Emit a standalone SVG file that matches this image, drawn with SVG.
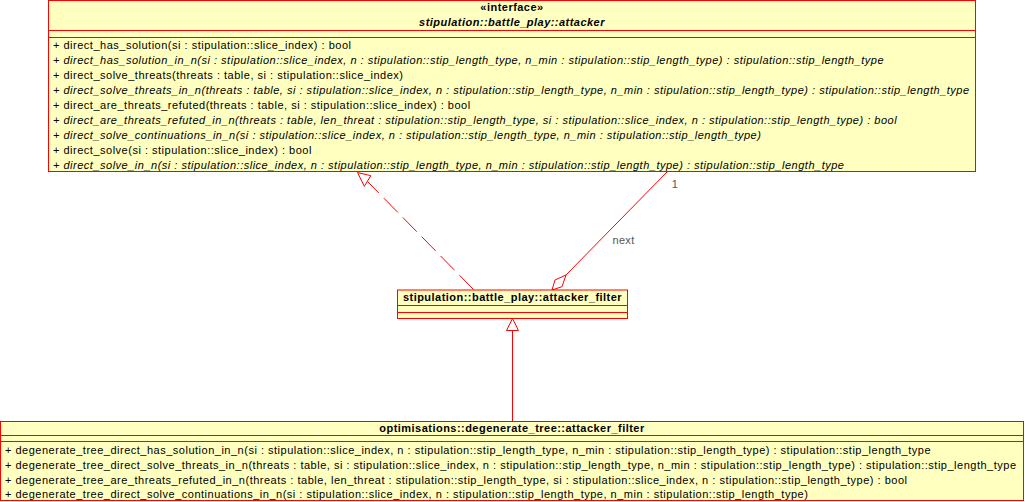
<svg xmlns="http://www.w3.org/2000/svg" width="1025" height="502" viewBox="0 0 1025 502">
<style>
.box{fill:#ffffc0;stroke:#ff0000;stroke-width:1}
.sep{stroke:#ff0000;stroke-width:1}
.t{font-family:"Liberation Sans",Arial,sans-serif;font-size:11px;fill:#000;letter-spacing:0.505px}
.b{font-weight:bold;letter-spacing:0.47px}
.i{font-style:italic}
.c{text-anchor:middle}
.edge{fill:none;stroke:#ff0000;stroke-width:1}
.head{fill:#ffffff;stroke:#ff0000;stroke-width:1}
.lbl{font-family:"Liberation Sans",Arial,sans-serif;font-size:11px;fill:#555555;letter-spacing:0.3px}
</style>
<rect width="1025" height="502" fill="#ffffff"/>
<g id="connectors">
  <line class="edge" x1="473.5" y1="289.5" x2="367.5" y2="181.5" stroke-dasharray="20,7"/>
  <polygon class="head" points="357.5,172.5 370.8,175.7 364.3,186.3"/>
  <line class="edge" x1="566" y1="275" x2="667.5" y2="171.5"/>
  <polygon class="head" points="552,290 555,280 566,275 562,286.7"/>
  <text class="lbl c" x="675" y="187.5">1</text>
  <text class="lbl c" x="623.5" y="244">next</text>
  <line class="edge" x1="512.5" y1="421" x2="512.5" y2="330.5"/>
  <polygon class="head" points="512.5,318.5 506.5,330.5 518.5,330.5"/>
</g>
<g id="attacker">
  <rect class="box" x="48.5" y="0.5" width="927" height="171"/>
  <line class="sep" x1="48.5" y1="30.5" x2="975.5" y2="30.5"/>
  <line class="sep" x1="48.5" y1="37.5" x2="975.5" y2="37.5"/>
  <text class="t b c" x="512" y="11">«interface»</text>
  <text class="t b i c" x="512" y="25.5">stipulation::battle_play::attacker</text>
  <text class="t" x="53" y="48.5">+ direct_has_solution(si : stipulation::slice_index) : bool</text>
  <text class="t i" x="53" y="63.5">+ direct_has_solution_in_n(si : stipulation::slice_index, n : stipulation::stip_length_type, n_min : stipulation::stip_length_type) : stipulation::stip_length_type</text>
  <text class="t" x="53" y="78.5">+ direct_solve_threats(threats : table, si : stipulation::slice_index)</text>
  <text class="t i" x="53" y="93.5">+ direct_solve_threats_in_n(threats : table, si : stipulation::slice_index, n : stipulation::stip_length_type, n_min : stipulation::stip_length_type) : stipulation::stip_length_type</text>
  <text class="t" x="53" y="108.5">+ direct_are_threats_refuted(threats : table, si : stipulation::slice_index) : bool</text>
  <text class="t i" x="53" y="123.5">+ direct_are_threats_refuted_in_n(threats : table, len_threat : stipulation::stip_length_type, si : stipulation::slice_index, n : stipulation::stip_length_type) : bool</text>
  <text class="t i" x="53" y="138.5">+ direct_solve_continuations_in_n(si : stipulation::slice_index, n : stipulation::stip_length_type, n_min : stipulation::stip_length_type)</text>
  <text class="t" x="53" y="153.5">+ direct_solve(si : stipulation::slice_index) : bool</text>
  <text class="t i" x="53" y="168.5">+ direct_solve_in_n(si : stipulation::slice_index, n : stipulation::stip_length_type, n_min : stipulation::stip_length_type) : stipulation::stip_length_type</text>
</g>
<g id="attacker_filter">
  <rect class="box" x="397.5" y="290" width="230" height="28.5"/>
  <line class="sep" x1="397.5" y1="305.5" x2="627.5" y2="305.5"/>
  <line class="sep" x1="397.5" y1="312.5" x2="627.5" y2="312.5"/>
  <text class="t b c" x="512.5" y="300.5">stipulation::battle_play::attacker_filter</text>
</g>
<g id="degenerate_tree_attacker_filter">
  <rect class="box" x="0.5" y="421.5" width="1023" height="79"/>
  <line class="sep" x1="0.5" y1="435.5" x2="1023.5" y2="435.5"/>
  <line class="sep" x1="0.5" y1="441.5" x2="1023.5" y2="441.5"/>
  <text class="t b c" x="512" y="431.5">optimisations::degenerate_tree::attacker_filter</text>
  <text class="t" x="5" y="453.5">+ degenerate_tree_direct_has_solution_in_n(si : stipulation::slice_index, n : stipulation::stip_length_type, n_min : stipulation::stip_length_type) : stipulation::stip_length_type</text>
  <text class="t" x="5" y="468.5">+ degenerate_tree_direct_solve_threats_in_n(threats : table, si : stipulation::slice_index, n : stipulation::stip_length_type, n_min : stipulation::stip_length_type) : stipulation::stip_length_type</text>
  <text class="t" x="5" y="483.5">+ degenerate_tree_are_threats_refuted_in_n(threats : table, len_threat : stipulation::stip_length_type, si : stipulation::slice_index, n : stipulation::stip_length_type) : bool</text>
  <text class="t" x="5" y="498">+ degenerate_tree_direct_solve_continuations_in_n(si : stipulation::slice_index, n : stipulation::stip_length_type, n_min : stipulation::stip_length_type)</text>
</g>
</svg>
